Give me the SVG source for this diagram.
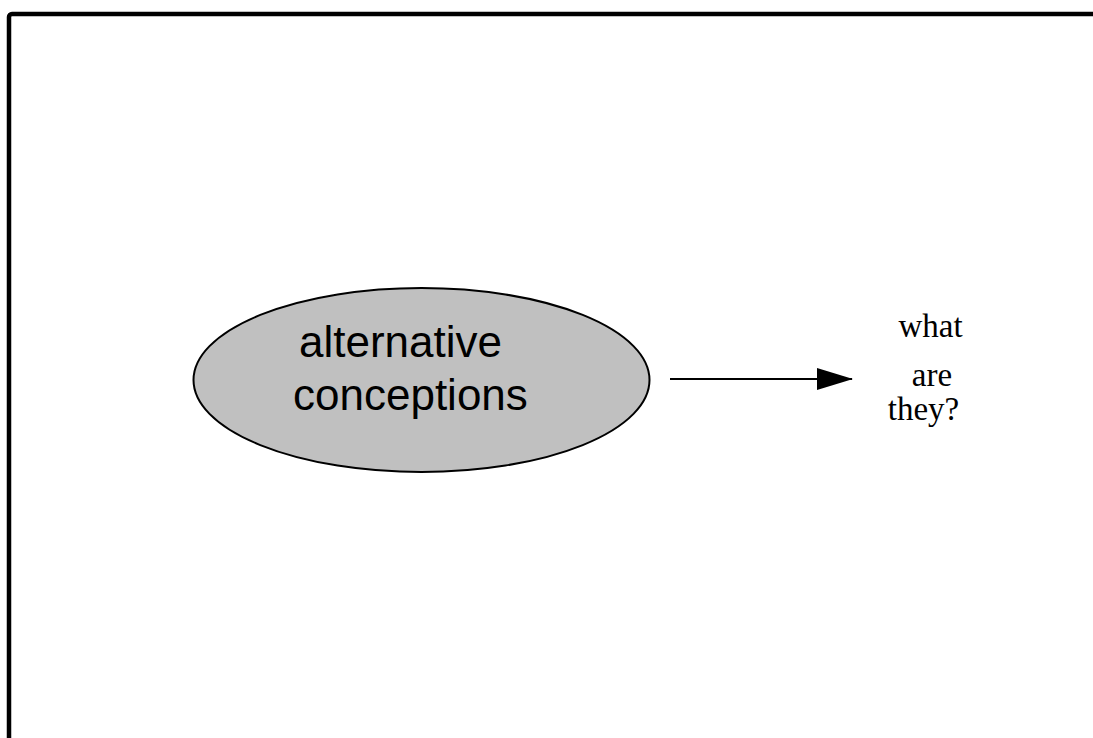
<svg xmlns="http://www.w3.org/2000/svg" width="1093" height="738" viewBox="0 0 1093 738">
  <style>
    .frame { fill: #ffffff; stroke: #000000; stroke-width: 4.5; }
    .node { fill: #c0c0c0; stroke: #000000; stroke-width: 2; }
    .sans { font-family: "Liberation Sans", Arial, sans-serif; font-size: 44px; fill: #000000; }
    .serif { font-family: "Liberation Serif", "Times New Roman", serif; font-size: 33px; fill: #000000; }
    .edge { stroke: #000000; stroke-width: 2; fill: none; }
  </style>
  <defs>
    <marker id="arrowhead" markerWidth="36" markerHeight="22" refX="35" refY="11" orient="auto" markerUnits="userSpaceOnUse">
      <path d="M0,0 L36,11 L0,22 Z" fill="#000000"/>
    </marker>
  </defs>

  <rect width="1093" height="738" fill="#ffffff"/>
  <!-- page frame, running off the right and bottom -->
  <rect class="frame" x="9" y="14" width="1110" height="760" rx="3"/>

  <g id="node-alternative-conceptions">
    <ellipse class="node" cx="421.5" cy="380" rx="228" ry="92"/>
    <text class="sans" x="299" y="357">alternative</text>
    <text class="sans" x="293" y="410">conceptions</text>
  </g>

  <g id="node-what-are-they">
    <text class="serif" x="930.5" y="337" text-anchor="middle">what</text>
    <text class="serif" x="932" y="386" text-anchor="middle">are</text>
    <text class="serif" x="923.5" y="420" text-anchor="middle">they?</text>
  </g>

  <g id="connectors">
    <line class="edge" x1="670" y1="379" x2="852" y2="379" marker-end="url(#arrowhead)"/>
  </g>
</svg>
